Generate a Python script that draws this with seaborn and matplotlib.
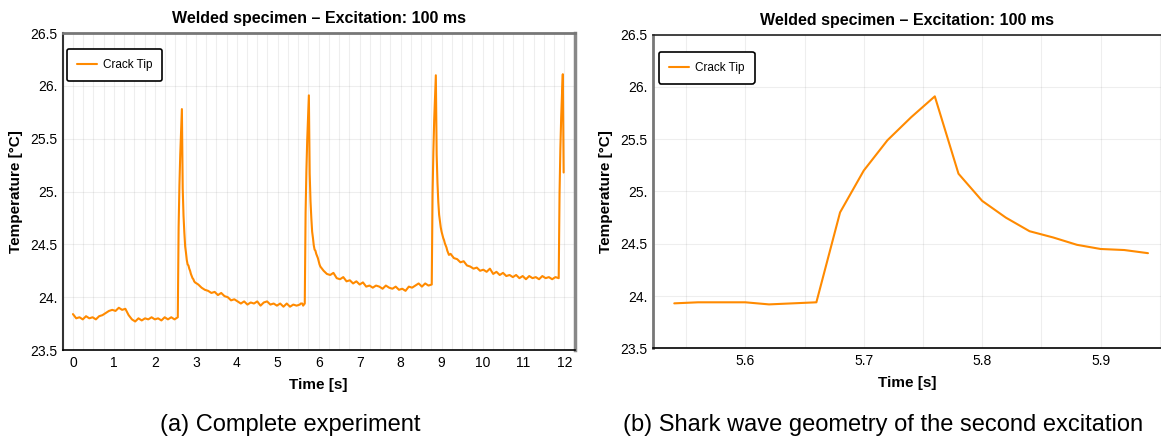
import numpy as np
import matplotlib
matplotlib.use('Agg')
import matplotlib.pyplot as plt
from matplotlib.ticker import FixedLocator, MultipleLocator
import pandas as pd
import seaborn as sns

ORANGE = '#ff8a00'
TITLE = 'Welded specimen \u2013 Excitation: 100 ms'

# temperature at the crack tip [°C], read off the chart in sampled segments
# (start time [s], sampling step [s]) -> values
pre_start, pre_step = 0.00, 0.08
pre_temp = [23.84, 23.80, 23.81, 23.79, 23.82, 23.80, 23.81, 23.79, 23.82, 23.83,
            23.85, 23.87, 23.88, 23.87, 23.90, 23.88, 23.89, 23.83, 23.79, 23.77,
            23.80, 23.78, 23.80, 23.79, 23.81, 23.79, 23.80, 23.78, 23.81, 23.79,
            23.81, 23.79, 23.81]

pulse1_start, pulse1_step = 2.58, 0.02
pulse1_temp = [24.66, 25.06, 25.35, 25.57, 25.78, 25.03, 24.77, 24.61, 24.48, 24.42,
               24.35, 24.31, 24.30, 24.27, 24.25, 24.22, 24.20, 24.18, 24.17, 24.15,
               24.14]

decay1_start, decay1_step = 3.06, 0.08
decay1_temp = [24.12, 24.09, 24.07, 24.06, 24.04, 24.05, 24.02, 24.04, 24.01, 24.00,
               23.97, 23.98, 23.96, 23.94, 23.96, 23.93, 23.95, 23.94, 23.96, 23.92,
               23.95, 23.96, 23.93, 23.94, 23.92, 23.94, 23.91, 23.94, 23.91, 23.93,
               23.92]

pulse2_start, pulse2_step = 5.54, 0.02
pulse2_temp = [23.93, 23.94, 23.94, 23.94, 23.92, 23.93, 23.94, 24.80, 25.20, 25.49,
               25.71, 25.91, 25.17, 24.91, 24.75, 24.62, 24.56, 24.49, 24.45, 24.44,
               24.41, 24.39, 24.37, 24.34, 24.31, 24.29]

decay2_start, decay2_step = 6.12, 0.08
decay2_temp = [24.25, 24.22, 24.21, 24.23, 24.18, 24.17, 24.19, 24.15, 24.16, 24.13,
               24.15, 24.12, 24.14, 24.10, 24.11, 24.09, 24.11, 24.10, 24.08, 24.11,
               24.09, 24.08, 24.10, 24.07, 24.08, 24.06, 24.10, 24.09, 24.11, 24.13,
               24.10, 24.13, 24.11, 24.12]

pulse3_start, pulse3_step = 8.78, 0.02
pulse3_temp = [24.98, 25.38, 25.68, 25.90, 26.10, 25.35, 25.08, 24.90, 24.78, 24.72,
               24.66, 24.62, 24.59, 24.56, 24.54, 24.51, 24.49, 24.47, 24.44, 24.42,
               24.40]

decay3_start, decay3_step = 9.22, 0.08
decay3_temp = [24.41, 24.37, 24.36, 24.33, 24.34, 24.30, 24.29, 24.27, 24.28, 24.25,
               24.26, 24.24, 24.27, 24.22, 24.24, 24.21, 24.23, 24.20, 24.21, 24.19,
               24.21, 24.18, 24.20, 24.17, 24.20, 24.18, 24.19, 24.17, 24.20, 24.18,
               24.19, 24.17, 24.19, 24.18]

pulse4_start, pulse4_step = 11.88, 0.02
pulse4_temp = [24.98, 25.40, 25.70, 25.92, 26.11, 25.18]

segments = [(pre_start, pre_step, pre_temp),
            (pulse1_start, pulse1_step, pulse1_temp),
            (decay1_start, decay1_step, decay1_temp),
            (pulse2_start, pulse2_step, pulse2_temp),
            (decay2_start, decay2_step, decay2_temp),
            (pulse3_start, pulse3_step, pulse3_temp),
            (decay3_start, decay3_step, decay3_temp),
            (pulse4_start, pulse4_step, pulse4_temp)]

# zoom window of the second excitation
zoom_window = (5.54, 5.94)

y_ticks = [23.5, 24.0, 24.5, 25.0, 25.5, 26.0, 26.5]
y_tick_labels = ['23.5', '24.', '24.5', '25.', '25.5', '26.', '26.5']
x_ticks_full = list(range(0, 13))
x_ticks_zoom = [5.6, 5.7, 5.8, 5.9]
x_tick_labels_zoom = ['5.6', '5.7', '5.8', '5.9']

frames = []
for start, step, vals in segments:
    t = np.round(start + step * np.arange(len(vals)), 2)
    frames.append(pd.DataFrame({'time': t, 'temp': vals}))
df = pd.concat(frames, ignore_index=True)
df_zoom = df[(df['time'] >= zoom_window[0] - 1e-9) & (df['time'] <= zoom_window[1] + 1e-9)]

sns.set_style('white')
plt.rcParams['font.family'] = ['Liberation Sans', 'DejaVu Sans']
plt.rcParams['text.color'] = 'black'
plt.rcParams['axes.labelcolor'] = 'black'
plt.rcParams['xtick.color'] = 'black'
plt.rcParams['ytick.color'] = 'black'

fig = plt.figure(figsize=(11.61, 4.4), dpi=100)
ax1 = fig.add_axes([0.054, 0.2045, 0.441, 0.7205])
ax2 = fig.add_axes([0.5624, 0.2084, 0.4376, 0.7128])


def style_axes(ax, spine_styles):
    for side, (col, lw) in spine_styles.items():
        ax.spines[side].set_color(col)
        ax.spines[side].set_linewidth(lw)
        ax.spines[side].set_visible(lw > 0)
    ax.grid(True, which='both', color='gray', alpha=0.13, lw=0.8)
    ax.tick_params(which='major', direction='in', length=4, width=1,
                   color='#555555', labelcolor='black', labelsize=10, pad=4)
    ax.tick_params(which='minor', length=0)
    ax.yaxis.set_major_locator(FixedLocator(y_ticks))
    ax.set_yticklabels(y_tick_labels)
    ax.set_ylim(23.5, 26.5)
    ax.set_title(TITLE, fontsize=11.5, fontweight='bold', pad=7)
    ax.set_xlabel('Time [s]', fontsize=11, fontweight='bold', labelpad=6)
    ax.set_ylabel('Temperature [°C]', fontsize=11, fontweight='bold', labelpad=5)


def add_legend(ax, anchor):
    leg = ax.legend(loc='upper left', bbox_to_anchor=anchor, borderaxespad=0,
                    frameon=True, fancybox=True, framealpha=1, fontsize=8.5,
                    handlelength=1.7, handletextpad=0.5, borderpad=0.85)
    leg.get_frame().set_edgecolor('black')
    leg.get_frame().set_linewidth(1.2)


# (a) complete experiment
sns.lineplot(data=df, x='time', y='temp', ax=ax1, color=ORANGE, lw=1.5,
             label='Crack Tip')
ax1.set_xlim(-0.25, 12.25)
ax1.xaxis.set_major_locator(FixedLocator(x_ticks_full))
ax1.set_xticklabels([str(v) for v in x_ticks_full])
ax1.xaxis.set_minor_locator(MultipleLocator(0.25))
style_axes(ax1, {'bottom': ('black', 1.2), 'left': ('#333333', 1.5),
                 'top': ('#777777', 2.0), 'right': ('#888888', 2.5)})
add_legend(ax1, (0.008, 0.95))

# (b) zoom on the second excitation
sns.lineplot(data=df_zoom, x='time', y='temp', ax=ax2, color=ORANGE, lw=1.5,
             label='Crack Tip')
ax2.set_xlim(5.522, 5.951)
ax2.xaxis.set_major_locator(FixedLocator(x_ticks_zoom))
ax2.set_xticklabels(x_tick_labels_zoom)
ax2.xaxis.set_minor_locator(MultipleLocator(0.05))
style_axes(ax2, {'bottom': ('black', 1.2), 'left': ('#777777', 2.0),
                 'top': ('#222222', 1.2), 'right': ('white', 0)})
add_legend(ax2, (0.012, 0.946))

fig.text(0.2498, 0.034, '(a) Complete experiment', ha='center', va='center', fontsize=17)
fig.text(0.7606, 0.034, '(b) Shark wave geometry of the second excitation',
         ha='center', va='center', fontsize=17)

fig.savefig('out.png', dpi=100)
